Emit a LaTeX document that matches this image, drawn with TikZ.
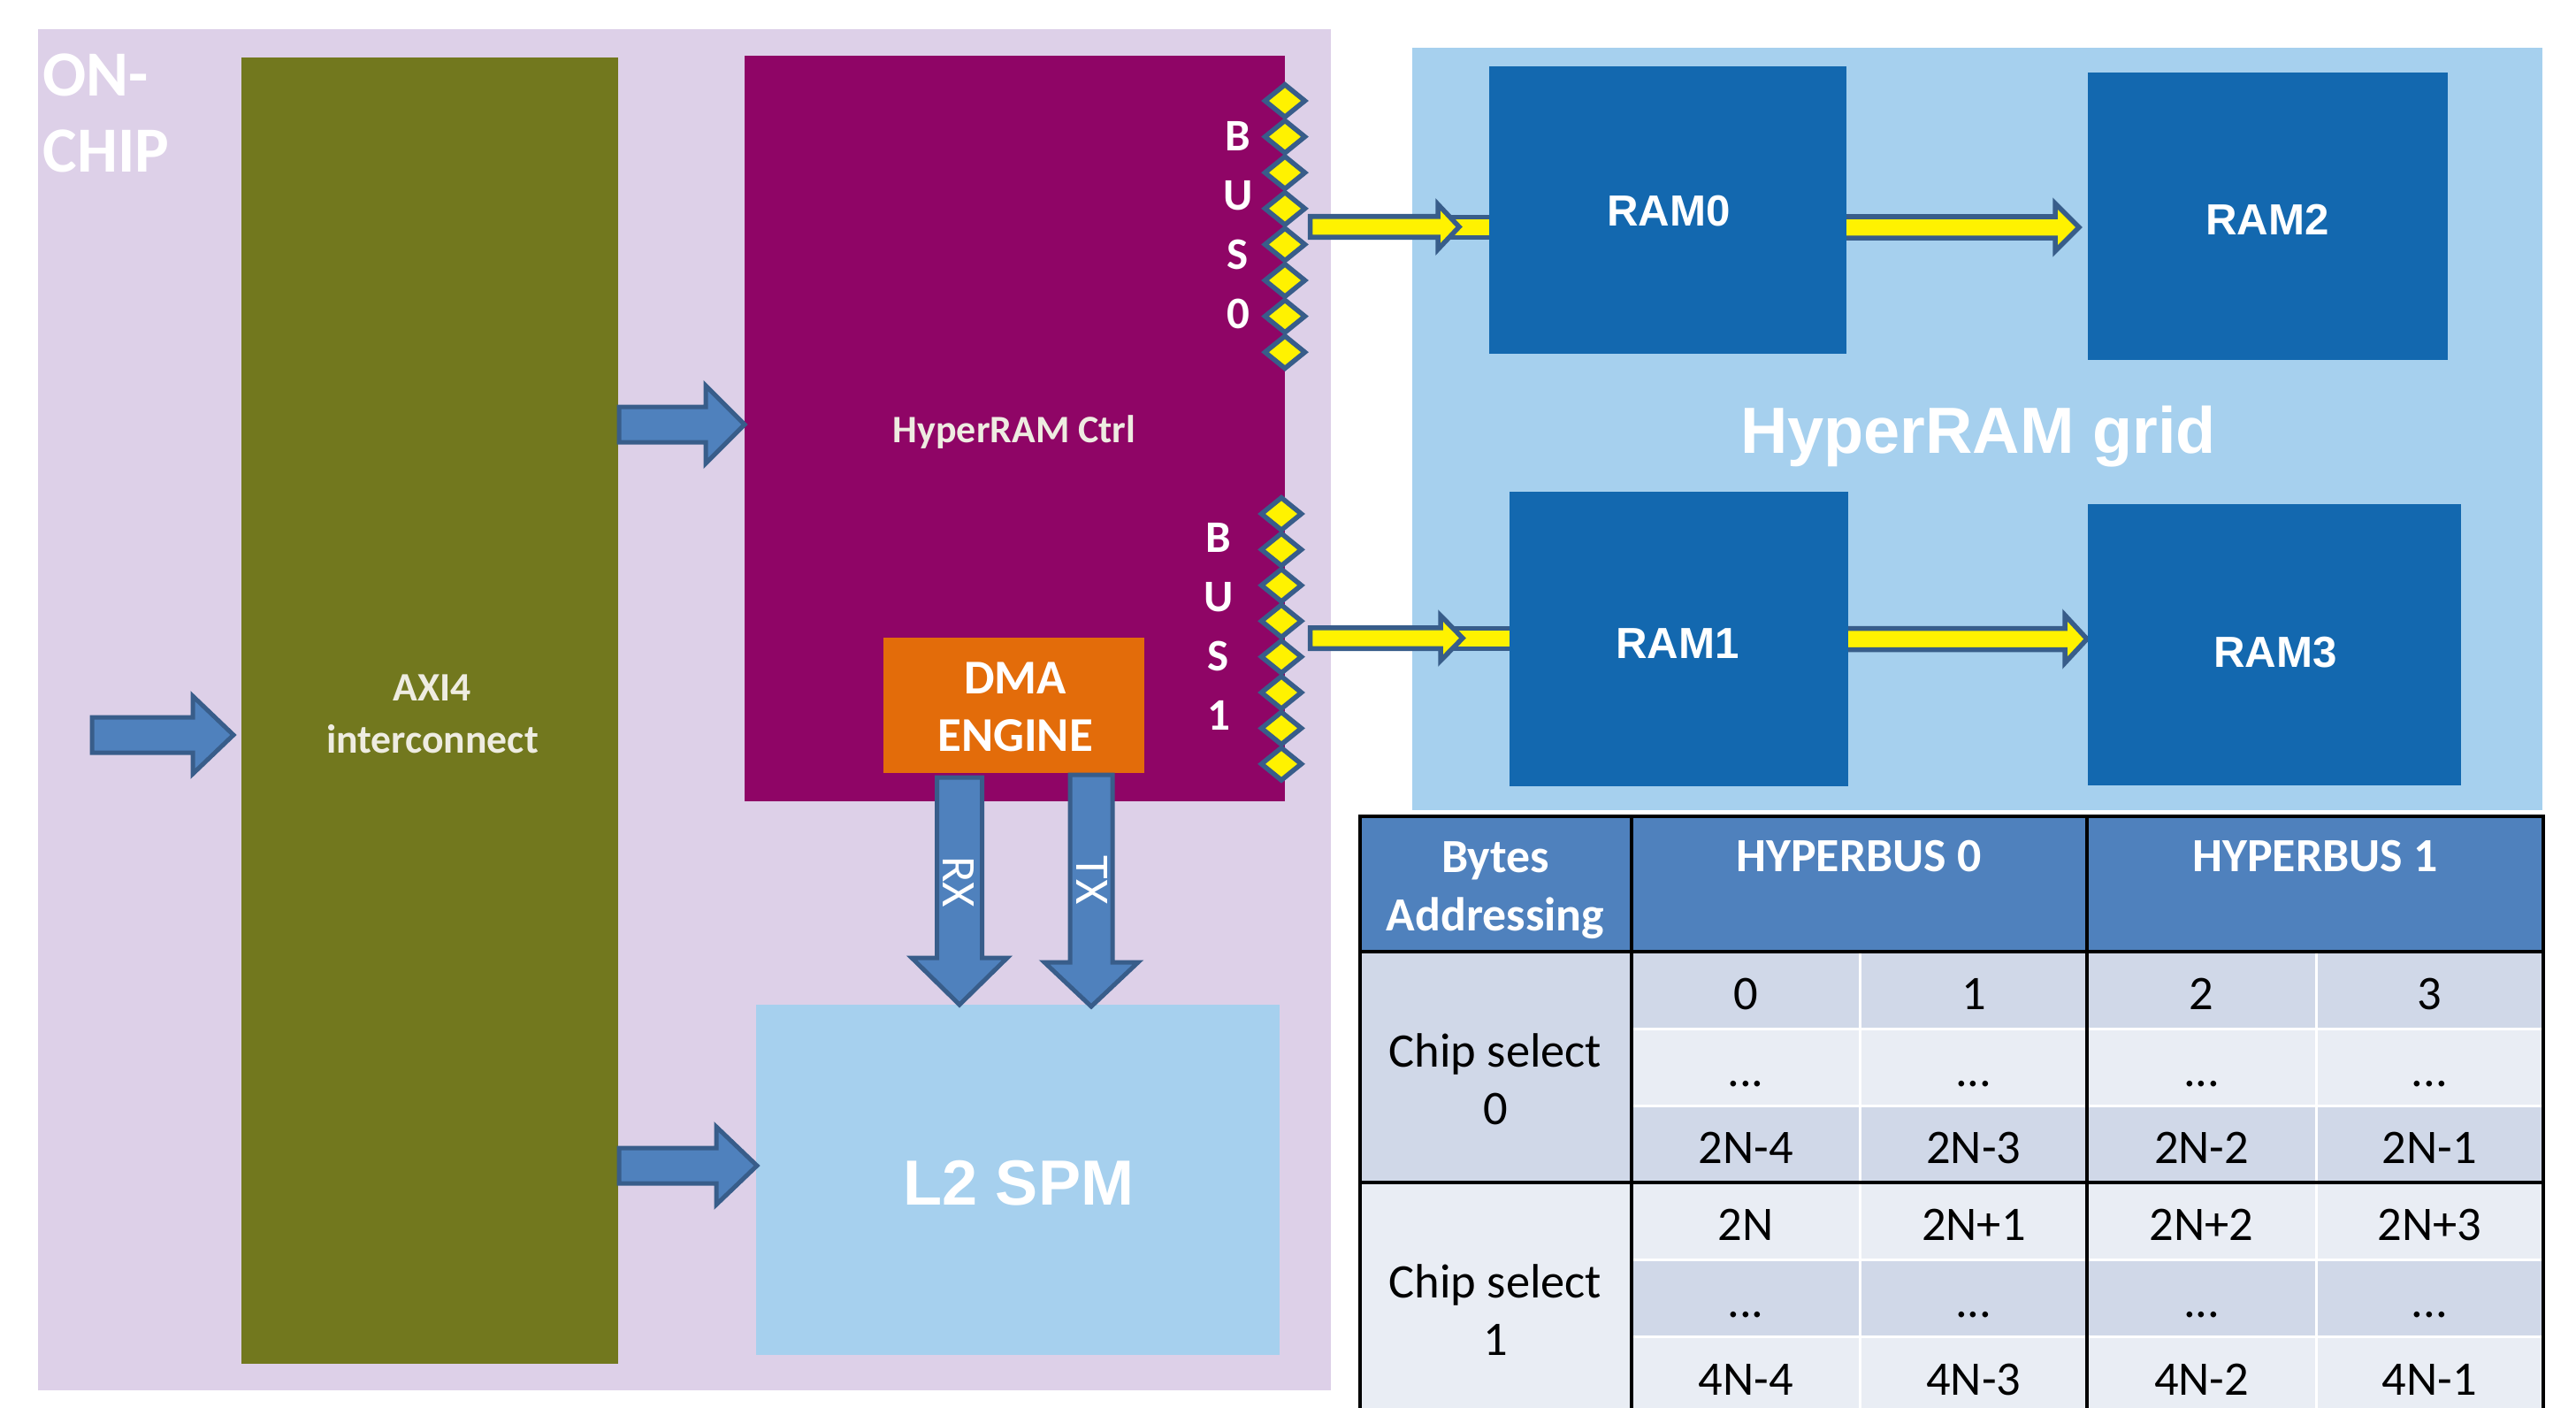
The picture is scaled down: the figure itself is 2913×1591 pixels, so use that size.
\documentclass[tikz,border=0pt]{standalone}
\usepackage{fontspec}
\setmainfont{Carlito}
\newfontfamily\arialf{Liberation Sans}
\usetikzlibrary{fit}
\definecolor{lilac}{HTML}{DDD0E8}
\definecolor{olivebox}{HTML}{72781E}
\definecolor{plum}{HTML}{8F0566}
\definecolor{dmaorange}{HTML}{E36C0A}
\definecolor{skyb}{HTML}{A6D0EE}
\definecolor{ramblue}{HTML}{1368AF}
\definecolor{arrfill}{HTML}{4F81BD}
\definecolor{arrline}{HTML}{385D8A}
\definecolor{offwhite}{HTML}{EEECE1}
\definecolor{hdr}{HTML}{4F81BD}
\definecolor{cellA}{HTML}{D0D8E8}
\definecolor{cellB}{HTML}{E9EDF4}
\newcommand{\harr}[7]{% style, x0, xbase, xtip, y, half shaft, half head
  \draw[#1] (#2,{#5-#6}) -- (#3,{#5-#6}) -- (#3,{#5-#7}) -- (#4,#5) -- (#3,{#5+#7}) -- (#3,{#5+#6}) -- (#2,{#5+#6}) -- cycle;}
\newcommand{\varr}[7]{% style, y0, ybase, ytip, x, half shaft, half head
  \draw[#1] ({#5-#6},#2) -- ({#5-#6},#3) -- ({#5-#7},#3) -- (#5,#4) -- ({#5+#7},#3) -- ({#5+#6},#3) -- ({#5+#6},#2) -- cycle;}
\newcommand{\tdots}{...}
\newcommand{\trow}[3]{\foreach \t [count=\k] in {#3} \node[celltxt, anchor=base] (#1-\k) at ({1974+257.8*(\k-1)},#2) {\t};}
\begin{document}
\begin{tikzpicture}[x=0.01cm,y=-0.01cm,
  area/.style={inner sep=0pt, draw=none},
  barrow/.style={fill=arrfill, draw=arrline, line width=0.05cm, line join=miter},
  yarrow/.style={fill=yellow, draw=arrline, line width=0.055cm, line join=miter},
  diam/.style={fill=yellow, draw=arrline, line width=0.055cm},
  busl/.style={text=white, font=\fontsize{14.5}{19}\selectfont\bfseries, inner sep=0pt, align=center, anchor=north},
  ramtxt/.style={text=white, font=\arialf\fontsize{14}{17}\selectfont\bfseries, inner sep=0pt, anchor=base},
  hdrtxt/.style={text=white, font=\fontsize{15.3}{18.8}\selectfont\bfseries, align=center, inner sep=0pt},
  celltxt/.style={text=black, font=\fontsize{15.5}{18.5}\selectfont, inner sep=0pt, align=center},
  whitesep/.style={draw=white, line width=0.03cm},
  blacksep/.style={draw=black, line width=0.035cm},
]
\useasboundingbox (0,0) rectangle (2913,1591);
\clip (0,0) rectangle (2913,1591);

% on-chip area
\node[area, fill=lilac, fit={(43,33) (1505,1572)}] (onchip) {};
\node[anchor=north west, inner sep=0pt, align=left, text=white,
      font=\fontsize{20.7}{24.5}\selectfont\bfseries] (onchiptxt) at (48,60) {ON-\\CHIP};

\node[area, fill=olivebox, fit={(273,65) (699,1542)}] (axi) {};
\node[anchor=north, inner sep=0pt, align=center, text=offwhite,
      font=\fontsize{13}{16.8}\selectfont\bfseries] (axitxt) at (489,762) {AXI4\\interconnect};
\node[area, fill=plum, fit={(842,63) (1453,906)}] (ctrl) {};
\node[anchor=base, inner sep=0pt, text=offwhite, font=\fontsize{12.5}{15}\selectfont\bfseries]
      (ctrltxt) at (1147,500) {HyperRAM Ctrl};
\node[area, fill=dmaorange, fit={(999,721) (1294,874)}] (dma) {};
\node[anchor=north, inner sep=0pt, align=center, text=white,
      font=\fontsize{15.6}{18.5}\selectfont\bfseries] (dmatxt) at (1148,748) {DMA\\ENGINE};
\node[area, fill=skyb, fit={(855,1136) (1447,1532)}] (l2) {};
\node[inner sep=0pt, text=white, font=\arialf\fontsize{20.5}{24}\selectfont\bfseries]
      (l2txt) at (1152,1338) {L2 SPM};

% blue block arrows
\harr{barrow}{104}{218}{264}{831}{20}{44}
\harr{barrow}{700}{798}{842}{480}{20}{44}
\harr{barrow}{700}{810}{856}{1318}{20}{44}
\varr{barrow}{879}{1083}{1136}{1085}{25.5}{54}
\varr{barrow}{876}{1088}{1138}{1234}{24}{53}
\node[rotate=-90, inner sep=0pt, text=white, font=\fontsize{15.5}{18}\selectfont] (rx) at (1084,997) {RX};
\node[rotate=-90, inner sep=0pt, text=white, font=\fontsize{15.5}{18}\selectfont] (tx) at (1234.5,995) {TX};

% bus labels and pins
\node[busl] (bus0) at (1400,137) {B\\U\\S\\0};
\node[busl] (bus1) at (1378,591) {B\\U\\S\\1};
\foreach \i in {0,...,7} {
  \draw[diam] (1430.5,{114+40.6*\i}) -- (1453,{95.75+40.6*\i}) -- (1475.5,{114+40.6*\i}) -- (1453,{132.25+40.6*\i}) -- cycle;
  \draw[diam] (1426.5,{581+40.4*\i}) -- (1449,{562.75+40.4*\i}) -- (1471.5,{581+40.4*\i}) -- (1449,{599.25+40.4*\i}) -- cycle;
}

% HyperRAM grid
\node[area, fill=skyb, fit={(1597,54) (2875,916)}] (grid) {};
\draw[yarrow] (1630,245.5) rectangle (1720,268.5);
\draw[yarrow] (1640,710.5) rectangle (1740,733.5);
\harr{yarrow}{2060}{2324}{2351}{257}{12}{27}
\harr{yarrow}{2060}{2335}{2360}{722.5}{12}{27}
\node[area, fill=ramblue, fit={(1684,75) (2088,400)}] (ram0) {};
\node[area, fill=ramblue, fit={(2361,82) (2768,407)}] (ram2) {};
\node[area, fill=ramblue, fit={(1707,556) (2090,889)}] (ram1) {};
\node[area, fill=ramblue, fit={(2361,570) (2783,888)}] (ram3) {};
\node[ramtxt] (ram0txt) at (1887,255) {RAM0};
\node[ramtxt] (ram2txt) at (2564,265) {RAM2};
\node[ramtxt] (ram1txt) at (1897,744) {RAM1};
\node[ramtxt] (ram3txt) at (2573,754) {RAM3};
\harr{yarrow}{1481.5}{1626}{1650}{256.5}{11.75}{25.5}
\harr{yarrow}{1481.5}{1629}{1654}{721.5}{11.75}{25.5}
\node[anchor=base, inner sep=0pt, text=white, font=\arialf\fontsize{21}{25}\selectfont\bfseries]
      (gridtxt) at (2237,512) {HyperRAM grid};

% table
\fill[hdr] (1538,923) rectangle (2876,1076);
\fill[cellA] (1538,1076) rectangle (2876,1337);
\fill[cellB] (1845,1163) rectangle (2876,1250);
\fill[cellB] (1538,1337) rectangle (2876,1600);
\fill[cellA] (1845,1424) rectangle (2876,1511);
\foreach \yy in {1163,1250,1424,1511} \draw[whitesep] (1845,\yy) -- (2876,\yy);
\foreach \xx in {2103,2619} \draw[whitesep] (\xx,1076) -- (\xx,1600);
\draw[blacksep] (1538,1600) -- (1538,923) -- (2876,923) -- (2876,1600);
\foreach \yy in {1076,1337} \draw[blacksep] (1538,\yy) -- (2876,\yy);
\foreach \xx in {1845,2360} \draw[blacksep] (\xx,923) -- (\xx,1600);

\node[hdrtxt, anchor=north] (hbytes) at (1691,951) {Bytes\\Addressing};
\node[hdrtxt, anchor=base] (hbus0) at (2102,985) {HYPERBUS 0};
\node[hdrtxt, anchor=base] (hbus1) at (2618,985) {HYPERBUS 1};
\node[celltxt, anchor=north] (cs0) at (1691,1168) {Chip select\\0};
\node[celltxt, anchor=north] (cs1) at (1691,1429) {Chip select\\1};
\trow{ra}{1141}{0,1,2,3}
\trow{rb}{1228}{\tdots,\tdots,\tdots,\tdots}
\trow{rc}{1315}{2N-4,2N-3,2N-2,2N-1}
\trow{rd}{1402}{2N,2N+1,2N+2,2N+3}
\trow{re}{1489}{\tdots,\tdots,\tdots,\tdots}
\trow{rf}{1577}{4N-4,4N-3,4N-2,4N-1}
\end{tikzpicture}
\end{document}
